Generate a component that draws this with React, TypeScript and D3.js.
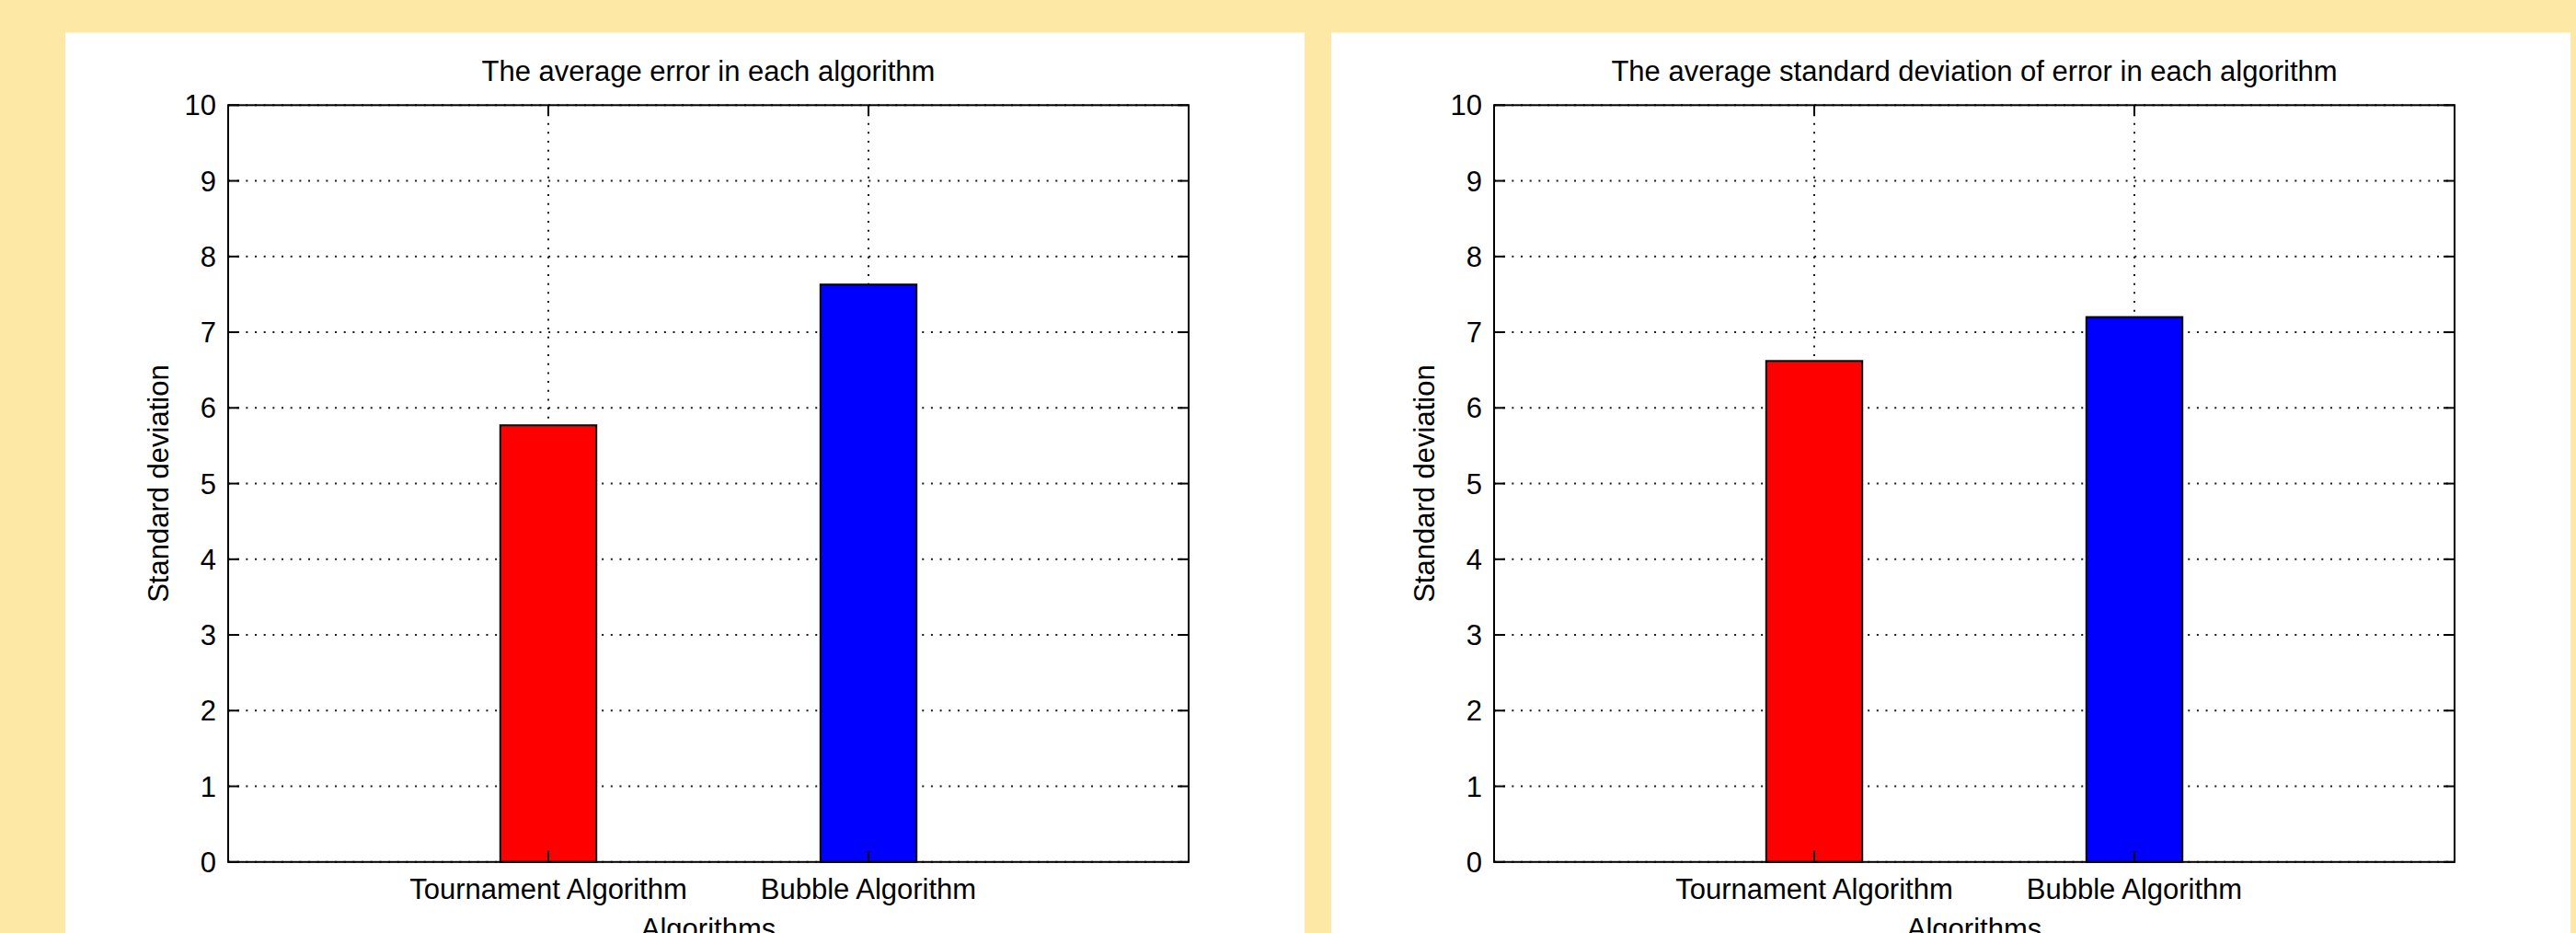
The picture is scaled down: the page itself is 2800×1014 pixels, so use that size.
import React from "react";
import * as d3 from "d3";

const categories = ["Tournament Algorithm", "Bubble Algorithm"];
const averageError = [5.77, 7.63];
const averageStdDev = [6.62, 7.2];
const yTickValues = [0, 1, 2, 3, 4, 5, 6, 7, 8, 9, 10];
const barColors = ["#FF0000", "#0000FF"];
const panelTitles = [
  "The average error in each algorithm",
  "The average standard deviation of error in each algorithm",
];
const panelSeries = [averageError, averageStdDev];
const yLabel = "Standard deviation";
const xLabel = "Algorithms";

const W = 2800;
const H = 1014;
const FONT = "'Liberation Sans', Arial, Helvetica, sans-serif";
const FS = 31;

function Panel({ px, title, values }: { px: number; title: string; values: number[] }) {
  const left = px + 177;
  const right = left + 1044;
  const top = 114.3;
  const bottom = 936.8;
  const x = d3.scaleLinear().domain([0, categories.length + 1]).range([left, right]);
  const y = d3.scaleLinear().domain([0, 10]).range([bottom, top]);
  const bw = x(0.3) - x(0);
  const tickLen = 12;
  const cx = (left + right) / 2;
  const dash = "2 7.67";
  return (
    <g>
      <rect x={px} y={35.5} width={1347} height={H - 35.5} fill="#FFFFFF" />
      {/* horizontal grid */}
      {yTickValues.map((t) => (
        <line key={"h" + t} x1={left} x2={right} y1={y(t)} y2={y(t)} stroke="#1a1a1a" strokeWidth={2} strokeDasharray={dash} />
      ))}
      {/* vertical grid */}
      {categories.map((c, i) => (
        <line key={"v" + c} x1={x(i + 1)} x2={x(i + 1)} y1={top} y2={bottom} stroke="#1a1a1a" strokeWidth={2} strokeDasharray={dash} />
      ))}
      {/* bars */}
      {values.map((v, i) => (
        <rect
          key={"b" + i}
          x={x(i + 1) - bw / 2}
          y={y(v)}
          width={bw}
          height={y(0) - y(v)}
          fill={barColors[i]}
          stroke="#000"
          strokeWidth={2}
        />
      ))}
      {/* ticks */}
      {yTickValues.map((t) => (
        <g key={"t" + t}>
          <line x1={left} x2={left + tickLen} y1={y(t)} y2={y(t)} stroke="#000" strokeWidth={2} />
          <line x1={right - tickLen} x2={right} y1={y(t)} y2={y(t)} stroke="#000" strokeWidth={2} />
        </g>
      ))}
      {categories.map((c, i) => (
        <g key={"xt" + c}>
          <line x1={x(i + 1)} x2={x(i + 1)} y1={top} y2={top + tickLen} stroke="#000" strokeWidth={2} />
          <line x1={x(i + 1)} x2={x(i + 1)} y1={bottom - tickLen} y2={bottom} stroke="#000" strokeWidth={2} />
        </g>
      ))}
      {/* box */}
      <rect x={left} y={top} width={right - left} height={bottom - top} fill="none" stroke="#000" strokeWidth={2} />
      {/* y tick labels */}
      {yTickValues.map((t) => (
        <text key={"yl" + t} x={left - 13} y={y(t) + 11} textAnchor="end" fontFamily={FONT} fontSize={FS} fill="#000">
          {t}
        </text>
      ))}
      {/* x tick labels */}
      {categories.map((c, i) => (
        <text key={"xl" + c} x={x(i + 1)} y={976.5} textAnchor="middle" fontFamily={FONT} fontSize={FS} fill="#000">
          {c}
        </text>
      ))}
      <text x={cx} y={1019.5} textAnchor="middle" fontFamily={FONT} fontSize={FS} fill="#000">
        {xLabel}
      </text>
      <text x={cx} y={88} textAnchor="middle" fontFamily={FONT} fontSize={FS} fill="#000">
        {title}
      </text>
      <text
        transform={`translate(${left - 65},${(top + bottom) / 2}) rotate(-90)`}
        textAnchor="middle"
        fontFamily={FONT}
        fontSize={FS}
        fill="#000"
      >
        {yLabel}
      </text>
    </g>
  );
}

export default function App() {
  const panelXs = [71, 1447];
  return (
    <svg
      width={W}
      height={H}
      viewBox={`0 0 ${W} ${H}`}
      style={{ position: "absolute", left: 0, top: 0, display: "block" }}
    >
      <rect x={0} y={0} width={W} height={H} fill="#FEE8A5" />
      {panelXs.map((px, i) => (
        <Panel key={i} px={px} title={panelTitles[i]} values={panelSeries[i]} />
      ))}
    </svg>
  );
}
